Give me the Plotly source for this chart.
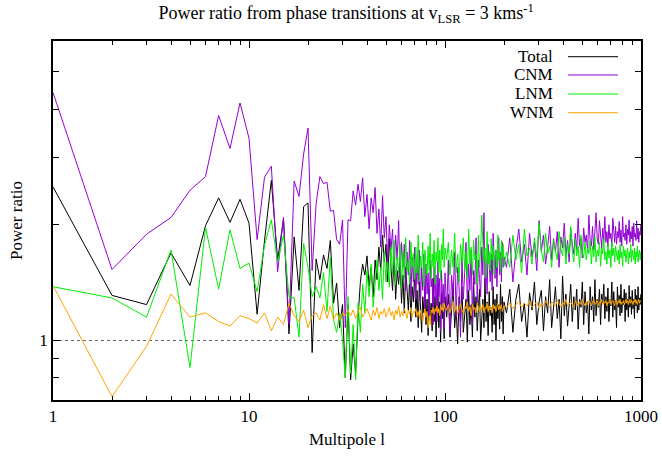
import plotly.graph_objects as go

# Multipole values (integer l up to 100, then sampled)
multipole = list(range(1, 101)) + list(range(102, 201, 2)) + list(range(206, 1000, 8))

# ---- Total ----
total_low = [2.51, 1.31, 1.24, 1.69, 1.39, 1.99, 2.35, 2.03, 2.33, 2.02,
             1.17, 1.82, 2.61, 1.62, 2.07, 1.04, 1.86, 1.35, 2.23, 2.28,
             0.93, 1.63, 1.44, 1.67, 1.54, 1.82, 1.25, 1.41, 1.08, 1.24,
             0.80, 1.24]
total_mid = [0.79, 0.98, 0.82, 1.15, 1.42, 1.58, 1.48, 1.66,
             1.38, 1.55, 1.30, 1.62, 1.44, 1.75, 1.52, 1.88, 1.60, 1.78,
             1.42, 1.84, 1.55, 1.35, 1.70, 1.28, 1.52, 1.40, 1.62, 1.25,
             1.48, 1.18, 1.55, 1.32, 1.20, 1.45, 1.12, 1.38, 1.26, 1.50,
             1.15, 1.35, 1.08, 1.42, 1.22, 1.05, 1.30, 1.18, 1.40, 1.10,
             1.28, 1.03, 1.36, 1.15, 1.25, 1.06, 1.45, 1.12, 1.30, 1.02,
             1.20, 1.38, 1.08, 1.26, 0.99, 1.33, 1.14, 1.22, 1.01, 1.30]
total_hi1 = [1.15, 1.32, 1.02, 1.25, 1.40, 1.08, 1.22, 0.98, 1.30, 1.12,
             1.38, 1.05, 1.20, 1.28, 0.99, 1.35, 1.10, 1.24, 1.02, 1.42,
             1.15, 1.30, 1.06, 1.22, 1.36, 1.00, 1.18, 1.28, 1.08, 1.45,
             1.12, 1.26, 1.03, 1.34, 1.16, 1.22, 1.05, 1.38, 1.10, 1.28,
             1.00, 1.32, 1.14, 1.24, 1.07, 1.40, 1.12, 1.30, 1.04, 1.26]
total_hi2 = [1.18, 1.36, 1.05, 1.28, 1.40, 1.12, 1.25, 1.02, 1.33, 1.20,
             1.42, 1.10, 1.26, 1.35, 1.06, 1.30, 1.18, 1.44, 1.08, 1.24,
             1.38, 1.14, 1.28, 1.01, 1.47, 1.16, 1.32, 1.09, 1.26, 1.40,
             1.12, 1.30, 1.20, 1.36, 1.07, 1.28, 1.22, 1.42, 1.10, 1.34,
             1.18, 1.26, 1.04, 1.38, 1.20, 1.30, 1.12, 1.44, 1.16, 1.28,
             1.22, 1.36, 1.10, 1.32, 1.25, 1.40, 1.14, 1.30, 1.19, 1.37,
             1.12, 1.28, 1.23, 1.42, 1.15, 1.34, 1.20, 1.27, 1.08, 1.38,
             1.22, 1.31, 1.16, 1.40, 1.18, 1.29, 1.24, 1.36, 1.12, 1.33,
             1.20, 1.28, 1.15, 1.39, 1.22, 1.30, 1.17, 1.35, 1.21, 1.28,
             1.14, 1.36, 1.23, 1.31, 1.18, 1.38, 1.20, 1.29, 1.24, 1.32]

# ---- CNM ----
cnm_low = [4.42, 1.53, 1.89, 2.09, 2.46, 2.67, 3.85, 3.16, 4.15, 3.36,
           1.83, 2.66, 2.84, 1.51, 2.09, 1.10, 2.60, 2.37, 3.06, 3.57,
           1.52, 2.27, 2.67, 2.56, 2.58, 2.17, 2.18, 1.83, 1.78, 2.06,
           1.08, 2.06]
cnm_mid = [2.05, 2.45, 2.25, 2.55, 2.30, 2.65, 2.10, 2.40,
           1.95, 2.35, 2.15, 2.50, 1.90, 2.20, 1.75, 2.38, 1.85, 2.10,
           1.60, 2.00, 1.72, 1.95, 1.50, 1.88, 1.62, 2.05, 1.45, 1.80,
           1.55, 1.78, 1.35, 1.70, 1.48, 1.82, 1.30, 1.65, 1.42, 1.75,
           1.28, 1.60, 1.40, 1.72, 1.25, 1.55, 1.35, 1.68, 1.20, 1.58,
           1.32, 1.50, 1.15, 1.62, 1.38, 1.45, 1.10, 1.55, 1.28, 1.48,
           1.12, 1.60, 1.30, 1.45, 1.05, 1.52, 1.25, 1.40, 1.08, 1.50]
cnm_hi1 = [1.20, 1.62, 1.05, 1.48, 1.30, 1.70, 1.15, 1.55, 1.38, 1.02,
           1.65, 1.28, 1.50, 1.80, 1.22, 1.58, 1.35, 1.72, 1.10, 1.52,
           1.40, 1.85, 1.25, 1.62, 1.45, 1.30, 1.75, 1.48, 2.15, 1.40,
           1.60, 1.32, 1.78, 1.50, 1.42, 1.68, 1.35, 1.90, 1.55, 1.45,
           1.72, 1.38, 1.62, 1.85, 1.48, 1.70, 1.42, 1.80, 1.55, 1.65]
cnm_hi2 = [1.55, 1.85, 1.42, 1.72, 1.95, 1.60, 1.78, 1.48, 1.90, 1.65,
           1.80, 1.52, 2.05, 1.70, 1.88, 1.58, 1.75, 1.98, 1.62, 1.84,
           1.70, 1.92, 1.55, 1.86, 1.74, 2.02, 1.66, 1.82, 1.60, 1.95,
           1.78, 1.68, 1.90, 1.72, 2.08, 1.76, 1.85, 1.64, 1.96, 1.80,
           1.88, 1.70, 2.12, 1.82, 1.76, 1.98, 1.72, 1.90, 2.15, 1.84,
           1.78, 2.05, 1.86, 1.74, 1.96, 1.82, 2.10, 1.80, 1.92, 1.75,
           2.00, 1.84, 1.90, 1.76, 2.08, 1.88, 1.80, 1.98, 1.78, 1.92,
           1.85, 2.04, 1.80, 1.94, 1.76, 2.10, 1.86, 1.90, 1.82, 2.00,
           1.78, 1.95, 1.88, 2.06, 1.80, 1.92, 1.84, 1.98, 1.76, 2.02,
           1.86, 1.90, 1.82, 2.05, 1.84, 1.96, 1.80, 1.92, 1.88, 2.00]

# ---- LNM ----
lnm_low = [1.38, 1.29, 1.15, 1.72, 0.85, 1.97, 1.36, 1.94, 1.54, 1.59,
           1.34, 1.77, 2.06, 1.60, 1.88, 1.30, 1.29, 1.02, 1.79, 1.55,
           1.30, 1.38, 1.29, 1.50, 1.19, 1.65, 1.13, 1.05, 1.18, 1.00,
           0.80, 1.30]
lnm_mid = [0.82, 1.10, 0.79, 1.25, 1.05, 1.40, 1.18, 1.52,
           1.30, 1.58, 1.22, 1.45, 1.62, 1.35, 1.55, 1.28, 1.70, 1.42,
           1.60, 1.38, 1.75, 1.48, 1.82, 1.40, 1.65, 1.50, 1.78, 1.36,
           1.70, 1.45, 1.85, 1.52, 1.62, 1.40, 1.80, 1.55, 1.68, 1.44,
           1.75, 1.50, 1.88, 1.42, 1.66, 1.55, 1.80, 1.38, 1.72, 1.58,
           1.48, 1.76, 1.52, 1.90, 1.45, 1.68, 1.55, 1.82, 1.40, 1.70,
           1.60, 1.85, 1.50, 1.72, 1.44, 1.78, 1.62, 1.95, 1.55, 1.74]
lnm_hi1 = [1.62, 1.80, 1.48, 1.72, 1.55, 1.90, 1.50, 1.68, 1.42, 1.78,
           1.60, 1.85, 1.52, 1.70, 1.45, 1.95, 1.58, 1.75, 1.48, 1.82,
           1.62, 1.68, 1.40, 1.88, 1.55, 1.72, 2.12, 1.80, 1.60, 1.74,
           1.46, 1.92, 1.58, 1.70, 1.52, 1.84, 1.62, 1.76, 1.48, 1.66,
           1.72, 1.55, 1.88, 1.62, 1.70, 1.50, 1.82, 1.64, 1.78, 1.56]
lnm_hi2 = [1.70, 1.55, 1.88, 1.62, 1.78, 1.50, 1.95, 1.66, 1.74, 1.58,
           1.85, 1.64, 2.02, 1.72, 1.60, 1.90, 1.68, 1.76, 1.55, 1.82,
           1.70, 1.62, 1.92, 1.74, 1.66, 1.86, 1.58, 1.78, 1.68, 1.98,
           1.72, 1.60, 1.84, 1.66, 1.76, 1.55, 1.88, 1.70, 1.64, 1.80,
           1.62, 1.74, 1.68, 1.82, 1.58, 1.76, 1.65, 1.86, 1.60, 1.72,
           1.66, 1.80, 1.56, 1.74, 1.68, 1.84, 1.62, 1.70, 1.58, 1.78,
           1.64, 1.72, 1.55, 1.80, 1.66, 1.74, 1.60, 1.76, 1.68, 1.62,
           1.72, 1.58, 1.78, 1.64, 1.70, 1.56, 1.76, 1.66, 1.72, 1.60,
           1.68, 1.74, 1.58, 1.70, 1.64, 1.78, 1.60, 1.72, 1.66, 1.62,
           1.74, 1.58, 1.70, 1.65, 1.76, 1.60, 1.68, 1.72, 1.62, 1.70]

# ---- WNM ----
wnm_low = [1.39, 0.714, 0.966, 1.32, 1.15, 1.18, 1.12, 1.09, 1.16, 1.14,
           1.11, 1.18, 1.06, 1.15, 1.10, 1.25, 1.16, 1.12, 1.20, 1.08,
           1.16, 1.18, 1.13, 1.24, 1.14, 1.23, 1.13, 1.18, 1.13, 1.18,
           1.16, 1.20]
wnm_mid = [1.16, 1.20, 1.14, 1.19, 1.22, 1.15, 1.18, 1.21,
           1.17, 1.13, 1.20, 1.16, 1.22, 1.14, 1.19, 1.17, 1.21, 1.15,
           1.18, 1.22, 1.16, 1.19, 1.13, 1.20, 1.17, 1.23, 1.15, 1.19,
           1.16, 1.21, 1.18, 1.14, 1.20, 1.17, 1.22, 1.15, 1.19, 1.18,
           1.21, 1.16, 1.19, 1.14, 1.20, 1.17, 1.12, 1.18, 1.21, 1.15,
           1.19, 1.08, 1.16, 1.10, 1.20, 1.18, 1.22, 1.17, 1.21, 1.19,
           1.23, 1.18, 1.21, 1.16, 1.24, 1.20, 1.22, 1.19, 1.25, 1.21]
wnm_hi1 = [1.20, 1.24, 1.18, 1.22, 1.26, 1.19, 1.23, 1.17, 1.21, 1.25,
           1.20, 1.18, 1.23, 1.21, 1.26, 1.19, 1.22, 1.16, 1.24, 1.20,
           1.22, 1.18, 1.25, 1.21, 1.19, 1.23, 1.20, 1.24, 1.18, 1.22,
           1.21, 1.25, 1.19, 1.23, 1.20, 1.22, 1.18, 1.24, 1.21, 1.23,
           1.19, 1.22, 1.25, 1.20, 1.23, 1.21, 1.24, 1.19, 1.22, 1.23]
wnm_hi2 = [1.22, 1.25, 1.21, 1.24, 1.26, 1.22, 1.25, 1.23, 1.27, 1.22,
           1.24, 1.26, 1.21, 1.25, 1.23, 1.27, 1.24, 1.22, 1.26, 1.24,
           1.23, 1.27, 1.25, 1.22, 1.26, 1.24, 1.28, 1.23, 1.25, 1.26,
           1.24, 1.22, 1.27, 1.25, 1.23, 1.26, 1.24, 1.28, 1.25, 1.23,
           1.26, 1.24, 1.27, 1.25, 1.23, 1.26, 1.28, 1.24, 1.25, 1.27,
           1.23, 1.26, 1.25, 1.28, 1.24, 1.26, 1.25, 1.27, 1.23, 1.26,
           1.25, 1.28, 1.24, 1.26, 1.27, 1.25, 1.23, 1.27, 1.26, 1.24,
           1.27, 1.25, 1.28, 1.24, 1.26, 1.25, 1.27, 1.24, 1.26, 1.28,
           1.25, 1.27, 1.24, 1.26, 1.28, 1.25, 1.27, 1.26, 1.24, 1.27,
           1.26, 1.28, 1.25, 1.27, 1.24, 1.26, 1.28, 1.25, 1.27, 1.26]

total = total_low + total_mid + total_hi1 + total_hi2
cnm = cnm_low + cnm_mid + cnm_hi1 + cnm_hi2
lnm = lnm_low + lnm_mid + lnm_hi1 + lnm_hi2
wnm = wnm_low + wnm_mid + wnm_hi1 + wnm_hi2

series_names = ["Total", "CNM", "LNM", "WNM"]
series_values = [total, cnm, lnm, wnm]
series_colors = ["#000000", "#9400D3", "#00EE00", "#FFA500"]

x_tickvals = [1, 10, 100, 1000]
x_ticktext = ["1", "10", "100", "1000"]
x_minor = [2, 3, 4, 5, 6, 7, 8, 9, 20, 30, 40, 50, 60, 70, 80, 90,
           200, 300, 400, 500, 600, 700, 800, 900]
y_tickvals = [1]
y_ticktext = ["1"]
y_minor = [0.8, 0.9, 2, 3, 4, 5, 6]

FONT = "Liberation Serif"

fig = go.Figure()
for name, vals, col in zip(series_names, series_values, series_colors):
    n = min(len(multipole), len(vals))
    fig.add_trace(go.Scatter(x=multipole[:n], y=vals[:n], mode="lines", name=name,
                             line=dict(color=col, width=1), showlegend=False))

# manual gnuplot-style legend (text left, sample right)
leg_y = [0.9563, 0.9053, 0.8524, 0.8003]
for name, col, yy in zip(series_names, series_colors, leg_y):
    fig.add_annotation(x=0.8537, y=yy, xref="paper", yref="paper", text=name,
                       showarrow=False, xanchor="right", yanchor="middle",
                       font=dict(family=FONT, size=17, color="black"))
    fig.add_shape(type="line", xref="paper", yref="paper", x0=0.8759, x1=0.9609,
                  y0=yy, y1=yy, line=dict(color=col, width=1))

axis_common = dict(showline=True, linecolor="black", linewidth=1.5, mirror="allticks",
                   ticks="inside", ticklen=7, tickcolor="black", tickwidth=1,
                   zeroline=False, automargin=False,
                   tickfont=dict(family=FONT, size=17, color="black"))

fig.update_xaxes(type="log", range=[0, 3], tickmode="array", tickvals=x_tickvals,
                 ticktext=x_ticktext, showgrid=False,
                 minor=dict(tickmode="array", tickvals=x_minor, ticks="inside",
                            ticklen=4, tickcolor="black", showgrid=False),
                 title=dict(text="Multipole l", font=dict(family=FONT, size=17, color="black"),
                            standoff=8),
                 **axis_common)
fig.update_yaxes(type="log", range=[-0.1549, 0.7793], tickmode="array", tickvals=y_tickvals,
                 ticktext=y_ticktext, showgrid=True, gridcolor="#666666", griddash="dot",
                 gridwidth=1,
                 minor=dict(tickmode="array", tickvals=y_minor, ticks="inside",
                            ticklen=6, tickcolor="black", showgrid=False),
                 title=dict(text="Power ratio", font=dict(family=FONT, size=17, color="black"),
                            standoff=12),
                 **axis_common)

fig.update_layout(
    width=662, height=464,
    margin=dict(l=53, r=21, t=41, b=64),
    paper_bgcolor="white", plot_bgcolor="white",
    title=dict(text="Power ratio from phase transitions at v<sub>LSR</sub> = 3 kms<sup>-1</sup>",
               x=0.523, xanchor="center", y=0.972, yanchor="middle",
               font=dict(family=FONT, size=18, color="black")),
    font=dict(family=FONT, color="black"),
)

fig.write_html("out.html")
